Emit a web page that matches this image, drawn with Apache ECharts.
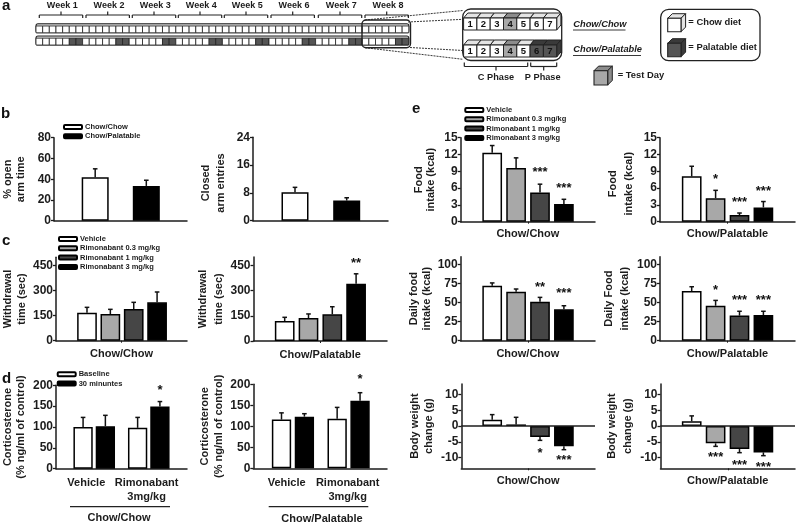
<!DOCTYPE html>
<html><head><meta charset="utf-8">
<style>html,body{margin:0;padding:0;background:#fff}#c{width:797px;height:523px;filter:blur(0.3px)}</style>
<script src="https://cdn.jsdelivr.net/npm/echarts@6/dist/echarts.min.js"></script>
</head><body><div id="c"></div>
<script>
// ---------- data ----------
const weekLabels = ['Week 1','Week 2','Week 3','Week 4','Week 5','Week 6','Week 7','Week 8'];
const dayNumbers = ['1','2','3','4','5','6','7'];
const chowChowDays = ['c','c','c','t','c','c','c'];
const chowPalatableDays = ['c','c','c','t','c','p','p'];

const dietNames = ['Chow/Chow','Chow/Palatable'];
const doseNames = ['Vehicle','Rimonabant 0.3 mg/kg','Rimonabant 1 mg/kg','Rimonabant 3 mg/kg'];
const timeNames = ['Baseline','30 minuntes'];
const treatmentLabels = ['Vehicle','Rimonabant\n3mg/kg'];

const openArmMeans = [42,33.5],  openArmCaps = [50,39];
const closedArmMeans = [8.2,5.8], closedArmCaps = [9.6,6.6];
const withdrawalChowMeans = [168,160,190,230], withdrawalChowCaps = [200,188,230,292];
const withdrawalPalMeans = [119,137,159,341], withdrawalPalCaps = [141,161,204,400];
const withdrawalPalStars = ['','','','**'], withdrawalPalStarLevels = [0,0,0,482];
const cortChowMeans = [100,102,98,149], cortChowCaps = [123,128,123,161];
const cortChowStars = ['','','','*'], cortChowStarLevels = [0,0,0,194];
const cortPalMeans = [116,123,118,161], cortPalCaps = [132,130,145,180];
const cortPalStars = ['','','','*'], cortPalStarLevels = [0,0,0,218];
const foodChowMeans = [12.3,9.6,5.2,3.15], foodChowCaps = [13.6,11.4,6.7,4.0];
const foodChowStars = ['','','***','***'], foodChowStarLevels = [0,0,9.4,6.4];
const foodPalMeans = [8.1,4.2,1.2,2.55], foodPalCaps = [9.9,5.6,1.55,3.6];
const foodPalStars = ['','*','***','***'], foodPalStarLevels = [0,8,3.9,6];
const dailyChowMeans = [72.4,64.5,51.3,41.3], dailyChowCaps = [76,68,57,46];
const dailyChowStars = ['','','**','***'], dailyChowStarLevels = [0,0,74.6,66.7];
const dailyPalMeans = [65.4,46,33,33.8], dailyPalCaps = [71,53,38.7,38.7];
const dailyPalStars = ['','*','***','***'], dailyPalStarLevels = [0,70,57,57];
const weightChowMeans = [2.0,0.5,-3.5,-6.45], weightChowCaps = [3.6,2.75,-4.55,-7.5];
const weightChowStars = ['','','*','***'], weightChowStarLevels = [0,0,-7.6,-10];
const weightPalMeans = [1.5,-5.5,-7.3,-8.36], weightPalCaps = [3.2,-6.45,-8.45,-9.4];
const weightPalStars = ['','***','***','***'], weightPalStarLevels = [0,-9.1,-11.65,-12.15];

// ---------- styles and layout ----------
const INK = '#1c1c1c';
const FONT = '"Liberation Sans", Arial, sans-serif';
const FILL = {white:'#ffffff', light:'#a8a8a8', dark:'#464646', black:'#000000'};
const doseFills = [FILL.white,FILL.light,FILL.dark,FILL.black];
const pairFills = [FILL.white,FILL.black];

const panels = [
 {title:'% open\narm time', means:openArmMeans, caps:openArmCaps, names:dietNames, fills:pairFills,
  l:53,r:187,t:137.7,b:220.7,ymax:80,ticks:[0,20,40,60,80],c0:94.5,s:51.5,bw:27,gap:27,lh:13},
 {title:'Closed\narm entries', means:closedArmMeans, caps:closedArmCaps, names:dietNames, fills:pairFills, shift:4,
  l:253,r:388,t:137.3,b:220.7,ymax:24,ticks:[0,8,16,24],c0:295,s:51.7,bw:27,gap:25,lh:15},
 {title:'Withdrawal\ntime (sec)', means:withdrawalChowMeans, caps:withdrawalChowCaps, names:doseNames, fills:doseFills, group:'Chow/Chow',
  l:53,r:187,t:257.3,b:340.7,ymax:500,ticks:[0,150,300,450],c0:84.7,s:23.9,bw:19.7,gap:27,lh:14,midTick:true,nameGap:8},
 {title:'Withdrawal\ntime (sec)', means:withdrawalPalMeans, caps:withdrawalPalCaps, names:doseNames, fills:doseFills, group:'Chow/Palatable',
  stars:withdrawalPalStars, levels:withdrawalPalStarLevels,
  l:253.5,r:387,t:257,b:341,ymax:500,ticks:[0,150,300,450],c0:284.7,s:23.8,bw:19.7,gap:23,lh:16,midTick:true,nameGap:8},
 {title:'Corticosterone\n(% ng/ml of control)', means:cortChowMeans, caps:cortChowCaps, names:timeNames, fills:pairFills, pairs:1.447,
  stars:cortChowStars, levels:cortChowStarLevels,
  l:53,r:187,t:385.3,b:468.7,ymax:200,ticks:[0,50,100,150,200],c0:80.7,s:22.8,bw:19.3,gap:29,lh:13,treatAt:[0.145,2.85]},
 {title:'Corticosterone\n(% ng/ml of control)', means:cortPalMeans, caps:cortPalCaps, names:timeNames, fills:pairFills, pairs:1.43,
  stars:cortPalStars, levels:cortPalStarLevels,
  l:253.3,r:387,t:384.3,b:468.3,ymax:200,ticks:[0,50,100,150,200],c0:281.5,s:22.9,bw:19.3,gap:24,lh:14,treatAt:[0.227,2.89]},
 {title:'Food\nintake (kcal)', means:foodChowMeans, caps:foodChowCaps, names:doseNames, fills:doseFills, group:'Chow/Chow',
  stars:foodChowStars, levels:foodChowStarLevels,
  l:460.7,r:595,t:137.7,b:221.7,ymax:15,ticks:[0,3,6,9,12,15],c0:492.2,s:23.9,bw:19.7,gap:24,lh:12,midTick:true,nameGap:7},
 {title:'Food\nintake (kcal)', means:foodPalMeans, caps:foodPalCaps, names:doseNames, fills:doseFills, group:'Chow/Palatable', shift:4,
  stars:foodPalStars, levels:foodPalStarLevels,
  l:660,r:795,t:137.7,b:221.7,ymax:15,ticks:[0,3,6,9,12,15],c0:691.7,s:23.9,bw:19.7,gap:23,lh:16,midTick:true,nameGap:7},
 {title:'Daily food\nintake (kcal)', means:dailyChowMeans, caps:dailyChowCaps, names:doseNames, fills:doseFills, group:'Chow/Chow',
  stars:dailyChowStars, levels:dailyChowStarLevels,
  l:460.7,r:595,t:256.7,b:340.7,ymax:110.5,ticks:[0,25,50,75,100],c0:492.2,s:23.9,bw:19.7,gap:24,lh:13,midTick:true,nameGap:8},
 {title:'Daily Food\nintake (kcal)', means:dailyPalMeans, caps:dailyPalCaps, names:doseNames, fills:doseFills, group:'Chow/Palatable',
  stars:dailyPalStars, levels:dailyPalStarLevels,
  l:660,r:795,t:256.7,b:340.7,ymax:110.5,ticks:[0,25,50,75,100],c0:691.7,s:23.9,bw:19.7,gap:24,lh:16,midTick:true,nameGap:8},
 {title:'Body weight\nchange (g)', means:weightChowMeans, caps:weightChowCaps, names:doseNames, fills:doseFills, group:'Chow/Chow',
  stars:weightChowStars, levels:weightChowStarLevels,
  l:461.3,r:595,t:384,b:468.3,ymin:-13.4,ymax:13.3,ticks:[-10,-5,0,5,10],c0:492.2,s:23.9,bw:19.7,gap:25,lh:14,midTick:true,nameGap:7.2,zero:true},
 {title:'Body weight\nchange (g)', means:weightPalMeans, caps:weightPalCaps, names:doseNames, fills:doseFills, group:'Chow/Palatable',
  stars:weightPalStars, levels:weightPalStarLevels,
  l:660.5,r:795,t:384,b:468.3,ymin:-13.4,ymax:13.3,ticks:[-10,-5,0,5,10],c0:691.7,s:23.9,bw:19.7,gap:24,lh:16,midTick:true,nameGap:7.2,zero:true}
];

const legends = [
 {names:dietNames, left:63, top:122.5},
 {names:doseNames, left:58, top:234.5},
 {names:timeNames, left:56.7, top:369.7},
 {names:doseNames, left:464.3, top:105.5}
];

// ---------- build charts ----------
const grid=[], xAxis=[], yAxis=[], series=[];
panels.forEach((p,g)=>{
  grid.push({left:p.l, top:p.t, width:p.r-p.l, height:p.b-p.t});
  const xOf = i => (p.pairs && i>=2) ? i-1+p.pairs : i;
  const xmin=(p.l-p.c0)/p.s, xmax=(p.r-p.c0)/p.s;
  const mid=(xmin+xmax)/2;
  const labelAt = p.treatAt || [];
  xAxis.push({
    type:'value', gridIndex:g, min:xmin, max:xmax, splitLine:{show:false},
    axisLine:{show:true,onZero:false,lineStyle:{color:INK,width:1.5}},
    axisTick:{show:!!p.midTick,customValues:[mid],length:2,lineStyle:{color:INK,width:1}},
    axisLabel:{show:!!p.treatAt,customValues:labelAt,margin:7.5,lineHeight:14,
      fontFamily:FONT,fontWeight:'bold',fontSize:11,color:INK,
      formatter:v=>treatmentLabels[labelAt.indexOf(v)]||''},
    name:p.group||'', nameLocation:'middle', nameGap:p.nameGap||0,
    nameTextStyle:{fontFamily:FONT,fontWeight:'bold',fontSize:11,color:INK}
  });
  yAxis.push({
    type:'value', gridIndex:g, min:p.ymin===undefined?0:p.ymin, max:p.ymax, splitLine:{show:false},
    axisLine:{show:true,onZero:false,lineStyle:{color:INK,width:1.5}},
    axisTick:{show:true,customValues:p.ticks,length:3,lineStyle:{color:INK,width:1.3}},
    axisLabel:{customValues:p.ticks,margin:3,fontFamily:FONT,fontWeight:'bold',fontSize:12,color:INK},
    name:p.title, nameLocation:'middle', nameGap:p.gap, nameRotate:90,
    nameTextStyle:{fontFamily:FONT,fontWeight:'bold',fontSize:11,color:INK,lineHeight:p.lh,
      padding:[0,2*(p.shift||0),0,0]}
  });
  const nameOf = i => p.names[i % p.names.length];
  const fillOf = i => p.fills[i % p.fills.length];
  [...new Set(p.means.map((_,i)=>nameOf(i)))].forEach(nm=>{
    const idx=p.means.map((_,i)=>i).filter(i=>nameOf(i)===nm);
    const s={type:'bar',name:nm,xAxisIndex:g,yAxisIndex:g,barWidth:p.bw,barGap:'-100%',z:3,
      data:idx.map(i=>[xOf(i),p.means[i]]),
      itemStyle:{color:fillOf(idx[0]),borderColor:'#000',borderWidth:1.5}};
    if(p.zero&&nm===p.names[0]) s.markLine={silent:true,symbol:'none',animation:false,label:{show:false},
      lineStyle:{color:INK,width:1.5,type:'solid'},data:[{yAxis:0}]};
    series.push(s);
  });
  series.push({type:'custom',xAxisIndex:g,yAxisIndex:g,z:2,silent:true,
    data:p.means.map((m,i)=>[xOf(i),m,p.caps[i]]),encode:{x:0,y:[1,2]},
    renderItem:(params,api)=>{
      const a=api.coord([api.value(0),api.value(1)]), b=api.coord([api.value(0),api.value(2)]);
      return {type:'group',children:[
        {type:'line',shape:{x1:a[0],y1:a[1],x2:b[0],y2:b[1]},style:{stroke:'#111',lineWidth:1.5}},
        {type:'line',shape:{x1:b[0]-2.3,y1:b[1],x2:b[0]+2.3,y2:b[1]},style:{stroke:'#111',lineWidth:1.5}}]};
    }});
  if(p.stars){
    series.push({type:'custom',xAxisIndex:g,yAxisIndex:g,z:4,silent:true,clip:false,
      data:p.stars.map((t,i)=>[xOf(i),p.levels[i]]),encode:{x:0,y:1},
      renderItem:(params,api)=>{
        const t=p.stars[params.dataIndex]; if(!t) return null;
        const c=api.coord([api.value(0),api.value(1)]);
        return {type:'text',x:c[0],y:c[1]+3,style:{text:t,align:'center',verticalAlign:'middle',
          font:'bold 13px '+FONT,fill:'#111'}};
      }});
  }
});

// ---------- schematic and free text ----------
const G=[];
const txt=(x,y,t,o={})=>G.push({type:'text',x,y,z:20,style:Object.assign({text:t,fill:o.fill||INK,align:o.align||'left',verticalAlign:'middle',
   font:(o.style||'')+' bold '+(o.size||9)+'px '+FONT})});
const ln=(x1,y1,x2,y2,w=1.2,dash)=>G.push({type:'line',z:12,shape:{x1,y1,x2,y2},style:{stroke:'#222',lineWidth:w,lineDash:dash||null}});
const box=(x,y,w,h,fill,r=0,lw=1.1,z=10)=>G.push({type:'rect',z,shape:{x,y,width:w,height:h,r},style:{fill,stroke:'#222',lineWidth:lw}});
const poly=(pts,fill,z=10)=>G.push({type:'polygon',z,shape:{points:pts},style:{fill,stroke:'#222',lineWidth:1}});
const dayFill={c:'#fff',t:FILL.light,p:'#555'};
const shade=f=>f==='#fff'?'#e4e4e4':(f==='#555'?'#3a3a3a':'#8c8c8c');
const cube=(x,y,w,h,dx,dy,fill)=>{
  poly([[x,y],[x+dx,y-dy],[x+w+dx,y-dy],[x+w,y]],shade(fill));
  poly([[x+w,y],[x+w+dx,y-dy],[x+w+dx,y+h-dy],[x+w,y+h]],shade(fill));
  box(x,y,w,h,fill,0,1.1);
};
const bracketDown=(x1,x2,y)=>{ln(x1,y,x2,y);ln(x1,y,x1,y+3);ln(x2,y,x2,y+3);ln((x1+x2)/2,y,(x1+x2)/2,y-3.5);};
const bracketUp=(x1,x2,y)=>{ln(x1,y,x2,y);ln(x1,y,x1,y-4);ln(x2,y,x2,y-4);ln((x1+x2)/2,y,(x1+x2)/2,y+4);};

// week strips
const stripX=36, weekW=46.6, dayW=weekW/7;
[[23.8,chowChowDays],[36,chowPalatableDays]].forEach(([y,days])=>{
  box(stripX,y,weekW*8,9,'#cfcfcf',2,1.1,9);
  weekLabels.forEach((_,w)=>days.forEach((d,i)=>{
    const f=d==='p'?'#555':'#fff';
    box(stripX+(w+i/7)*weekW,y+2.2,dayW,6.8,f,0,0.8);
  }));
});
const weekStarts=[39.3,86,132.3,178.3,224.3,271,318.3,365];
weekLabels.forEach((t,w)=>{
  bracketDown(weekStarts[w],weekStarts[w]+43.4,15);
  txt(weekStarts[w]+23,6,t,{align:'center',size:9});
});
box(362,20,48.5,27.7,'rgba(0,0,0,0)',4,1.4,13);
ln(365,20,463,10.5,0.9,[2,1]); ln(408,22,463,19.3,0.9,[2,1]);
ln(410,47.5,463,50.5,0.9,[2,1]); ln(365,47.7,463,59.3,0.9,[2,1]);

// enlarged week
box(462.7,9,99,51.5,'#fff',8,1.3,8);
[[18,chowChowDays],[45,chowPalatableDays]].forEach(([y,days])=>{
  days.forEach((d,i)=>{
    const x=463.6+i*13.3, f=dayFill[d], h=12;
    poly([[x,y],[x+4.2,y-5],[x+17.5,y-5],[x+13.3,y]],shade(f),10);
    if(i===6) poly([[x+13.3,y],[x+17.5,y-5],[x+17.5,y+h-5],[x+13.3,y+h]],shade(f),10);
    box(x,y,13.3,h,f,0,1);
    txt(x+6.6,y+6.5,dayNumbers[i],{align:'center',size:9.5,fill:'#111'});
  });
});
txt(573.3,24,'Chow/Chow',{style:'italic',size:9.3}); ln(573,30,625.5,30,0.9);
txt(573.3,49.3,'Chow/Palatable',{style:'italic',size:9.3}); ln(573,55.5,641,55.5,0.9);
bracketUp(464.3,527.7,66.5); bracketUp(530.7,556.7,66.5);
txt(496,77.7,'C Phase',{align:'center',size:9.2}); txt(542.7,77.7,'P Phase',{align:'center',size:9.2});

// key box
box(660.7,9.3,99.3,51.4,'#fff',8,1.3,8);
cube(667.7,18.3,13.3,13.4,4.6,4.6,'#fff'); txt(688.3,22.7,'= Chow diet',{size:9.4});
cube(667.7,43.3,13.3,13.4,4.6,4.6,'#555'); txt(688.3,47.7,'= Palatable diet',{size:9.4});
cube(594,70.7,13.7,14.3,4.6,4.6,FILL.light); txt(617.7,75.7,'= Test Day',{size:9.4});

// panel letters
[['a',2,6],['b',1,114],['c',2,241],['d',2,379],['e',412,109]].forEach(([t,x,y])=>txt(x,y,t,{size:15,fill:'#111'}));

// group rules under panel d
ln(70,506.7,170,506.7,1.2); txt(119,518,dietNames[0],{align:'center',size:11});
ln(268.7,506.7,368.3,506.7,1.2); txt(322,518.5,dietNames[1],{align:'center',size:11});

const chart=echarts.init(document.getElementById('c'),null,{renderer:'canvas'});
chart.setOption({
  animation:false, backgroundColor:'#fff',
  textStyle:{fontFamily:FONT},
  grid, xAxis, yAxis, series, graphic:G,
  legend:legends.map(l=>({data:l.names,left:l.left,top:l.top,orient:'vertical',padding:0,itemGap:0.3,
    itemWidth:18,itemHeight:4,icon:'roundRect',selectedMode:false,
    textStyle:{fontFamily:FONT,fontWeight:'bold',fontSize:7.5,color:INK,lineHeight:9,padding:[0,0,0,-2]}}))
});
</script></body></html>
